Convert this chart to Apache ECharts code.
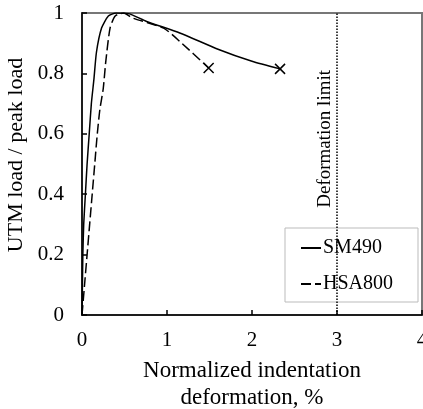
<!DOCTYPE html>
<html>
<head>
<meta charset="utf-8">
<script src="https://cdn.jsdelivr.net/npm/echarts@6/dist/echarts.min.js"></script>
<style>
  html, body { margin: 0; padding: 0; background: #fff; }
  #chart { width: 423px; height: 409px; }
</style>
</head>
<body>
<div id="chart"></div>
<script>
const sm490 = [
  [0, 0], [0.005, 0.1], [0.01, 0.2], [0.02, 0.3], [0.04, 0.4], [0.06, 0.5],
  [0.085, 0.6], [0.11, 0.7], [0.14, 0.78], [0.17, 0.87], [0.23, 0.95],
  [0.31, 0.99], [0.4, 1.0], [0.55, 0.998], [0.76, 0.972], [1.15, 0.934],
  [1.6, 0.88], [2.0, 0.84], [2.33, 0.815]
]
const hsa800 = [
  [0, 0], [0.03, 0.1], [0.06, 0.2], [0.09, 0.3], [0.12, 0.4], [0.15, 0.5],
  [0.18, 0.6], [0.21, 0.68], [0.25, 0.75], [0.28, 0.84], [0.33, 0.95],
  [0.39, 0.99], [0.49, 1.0], [0.6, 0.983], [0.96, 0.95], [1.15, 0.906],
  [1.49, 0.818]
]
const limitX = 3
const xTicks = [0, 1, 2, 3, 4]
const yTicks = [0, 0.2, 0.4, 0.6, 0.8, 1]

const font = 'Liberation Serif'
const cross = 'path://M0,0L10,10M10,0L0,10'

// last point of each curve gets an x marker
const withEndMark = (pts) => pts.map((p, i) => i === pts.length - 1
  ? { value: p, symbol: cross, symbolSize: 10, itemStyle: { borderColor: '#000', borderWidth: 1.5, color: 'none' } }
  : { value: p, symbol: 'none' })

const chart = echarts.init(document.getElementById('chart'))

chart.setOption({
  animation: false,
  backgroundColor: '#fff',
  textStyle: { fontFamily: font },
  grid: {
    left: 82, right: 1, top: 13, bottom: 94,
    outerBoundsMode: 'none',
    containLabel: false,
    show: true, borderColor: '#777', borderWidth: 2
  },
  legend: {
    data: ['SM490', 'HSA800'],
    orient: 'vertical',
    left: 285, top: 228,
    padding: [10, 25, 8, 15],
    itemGap: 16,
    itemWidth: 20,
    itemHeight: 14,
    borderColor: '#bbb',
    borderWidth: 1,
    backgroundColor: '#fff',
    itemStyle: { opacity: 0 },
    textStyle: { fontFamily: font, fontSize: 20, color: '#000', padding: [0, 0, 0, -3] }
  },
  xAxis: {
    type: 'value',
    min: xTicks[0], max: xTicks[xTicks.length - 1], interval: 1,
    name: 'Normalized indentation\ndeformation, %',
    nameLocation: 'middle',
    nameGap: 42,
    nameTextStyle: { fontFamily: font, fontSize: 23, color: '#000', lineHeight: 27 },
    axisLine: { lineStyle: { color: '#000', width: 1.5 } },
    axisTick: { inside: true, length: 5, lineStyle: { color: '#000', width: 1.5 } },
    axisLabel: { fontFamily: font, fontSize: 21, color: '#000', margin: 15 },
    splitLine: { show: false }
  },
  yAxis: {
    type: 'value',
    min: yTicks[0], max: yTicks[yTicks.length - 1], interval: 0.2,
    name: 'UTM load / peak load',
    nameLocation: 'middle',
    nameGap: 47,
    nameTextStyle: { fontFamily: font, fontSize: 22, color: '#000', padding: [0, 0, 0, 18] },
    axisLine: { lineStyle: { color: '#000', width: 1.5 } },
    axisTick: { inside: true, length: 5, lineStyle: { color: '#000', width: 1.5 } },
    axisLabel: { fontFamily: font, fontSize: 21, color: '#000', margin: 18 },
    splitLine: { show: false }
  },
  series: [
    {
      name: 'SM490',
      type: 'line',
      symbol: 'none',
      showSymbol: true,
      smooth: 0.2,
      data: withEndMark(sm490),
      lineStyle: { color: '#000', width: 1.5 },
      itemStyle: { color: '#000' }
    },
    {
      name: 'HSA800',
      type: 'line',
      symbol: 'none',
      showSymbol: true,
      smooth: 0.2,
      data: withEndMark(hsa800),
      lineStyle: { color: '#000', width: 1.5, type: [10, 4] },
      itemStyle: { color: '#000' }
    },
    {
      name: 'limit',
      type: 'line',
      data: [],
      markLine: {
        silent: true,
        symbol: 'none',
        lineStyle: { color: '#000', width: 1.5, type: [1.5, 1.5] },
        label: {
          show: true,
          formatter: 'Deformation limit',
          position: 'insideEndTop',
          distance: [57, 2],
          fontFamily: font,
          fontSize: 19,
          color: '#000'
        },
        data: [[{ coord: [limitX, 0] }, { coord: [limitX, 1] }]]
      }
    }
  ]
})
</script>
</body>
</html>
